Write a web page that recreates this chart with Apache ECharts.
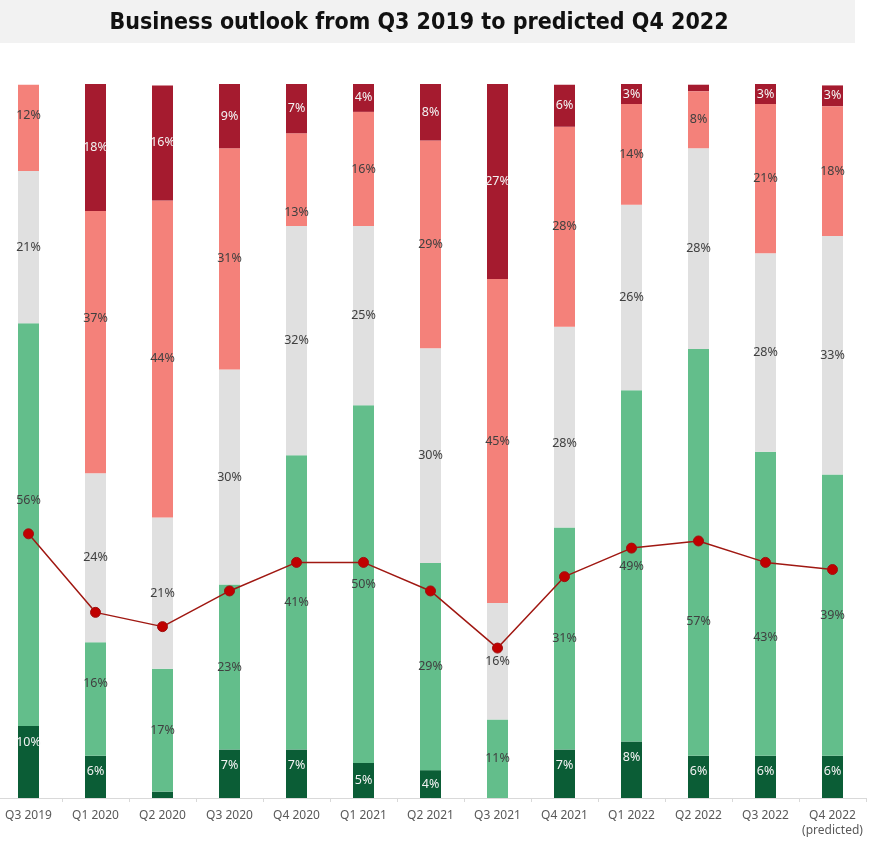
<!DOCTYPE html>
<html>
<head>
<meta charset="utf-8">
<script src="https://cdn.jsdelivr.net/npm/echarts@6/dist/echarts.min.js"></script>
<style>
html,body{margin:0;padding:0;background:#fff;overflow:hidden;}
#chart{position:relative;left:-5px;width:877px;height:845px;}
</style>
</head>
<body>
<div id="chart"></div>
<script>
// ---- data (percent of respondents) ----
const categories = ['Q3 2019','Q1 2020','Q2 2020','Q3 2020','Q4 2020','Q1 2021','Q2 2021','Q3 2021','Q4 2021','Q1 2022','Q2 2022','Q3 2022','Q4 2022\n(predicted)'];
const veryPositive = [10.1, 5.9, 0.9, 6.8, 6.8, 4.9, 3.9, 0, 6.8, 7.9, 5.9, 5.9, 5.9];
const positive     = [56.4, 15.9, 17.2, 23.1, 41.2, 50.1, 29.0, 11.0, 31.1, 49.2, 57.0, 42.6, 39.4];
const neutral      = [21.3, 23.7, 21.2, 30.1, 32.1, 25.1, 30.1, 16.3, 28.1, 26.0, 28.1, 27.8, 33.4];
const negative     = [12.1, 36.7, 44.4, 31.0, 13.0, 16.0, 29.1, 45.4, 28.0, 14.1, 8.0, 20.9, 18.2];
const veryNegative = [0, 17.8, 16.1, 9.0, 6.9, 4.0, 7.9, 27.3, 5.9, 2.9, 0.9, 2.9, 2.9];
const outlookIndex = [37, 26, 24, 29, 33, 33, 29, 21, 31, 35, 36, 33, 32];

// ---- label nudges (pixels, vertical) ----
const labelNudge = {
  veryPositive: [-20, -5, 0, -8, -8, 0, 0, 0, -8, -12, -5, -5, -5],
  positive:     [-24, -16, 0, 0, 0, 0, 0, 0, 0, 0, 69, 34, 0],
  neutral:      [0, 0, 0, 0, 0, 0, 0, 0, 16, 0, 0, 0, 0],
  negative:     [-12, -24, 0, 0, 33, 0, 0, 0, 0, 0, 0, 0, 0],
  veryNegative: [0, 0, 0, 0, 0, 0, 0, 0, 0, 0, 0, 0, 0]
};

const FONT = '"Noto Sans", "Open Sans", sans-serif';

function barSeries(name, key, values, color, labelColor) {
  return {
    name: name,
    type: 'bar',
    stack: 'total',
    barWidth: 21,
    itemStyle: { color: color },
    data: values.map((v, i) => ({
      value: v,
      label: {
        show: v >= 1.5,
        offset: [0, labelNudge[key][i]]
      }
    })),
    label: {
      position: 'inside',
      color: labelColor,
      fontFamily: FONT,
      fontSize: 12.5,
      formatter: p => Math.round(p.value) + '%'
    },
    emphasis: { disabled: true }
  };
}

const chart = echarts.init(document.getElementById('chart'));
chart.setOption({
  animation: false,
  backgroundColor: '#ffffff',
  graphic: [{
    type: 'rect',
    left: 5, top: 0,
    shape: { width: 855, height: 43 },
    style: { fill: '#f2f2f2' },
    z: -10
  }],
  title: {
    text: 'Business outlook from Q3 2019 to predicted Q4 2022',
    left: 419,
    textAlign: 'center',
    top: 7,
    textStyle: {
      fontFamily: '"Liberation Sans Narrow", "DejaVu Sans Condensed", sans-serif',
      fontWeight: 'bold',
      fontSize: 23,
      color: '#111'
    }
  },
  grid: { left: 0, right: 6, top: 84, bottom: 47, containLabel: false },
  xAxis: {
    type: 'category',
    data: categories,
    axisLine: { lineStyle: { color: '#d9d9d9', width: 1 } },
    axisTick: { show: true, length: 4, lineStyle: { color: '#d9d9d9' } },
    axisLabel: { color: '#595959', fontFamily: FONT, fontSize: 12, margin: 10, lineHeight: 15, interval: 0 }
  },
  yAxis: {
    type: 'value', min: 0, max: 100, show: false,
    splitLine: { show: false }
  },
  series: [
    barSeries('Very positive', 'veryPositive', veryPositive, '#0b5d36', '#f2f2f2'),
    barSeries('Positive', 'positive', positive, '#63be8b', '#404040'),
    barSeries('Neutral', 'neutral', neutral, '#e0e0e0', '#404040'),
    barSeries('Negative', 'negative', negative, '#f4817a', '#404040'),
    barSeries('Very negative', 'veryNegative', veryNegative, '#a51b2f', '#f2f2f2'),
    {
      name: 'Outlook',
      type: 'line',
      data: outlookIndex,
      z: 10,
      symbol: 'circle',
      symbolSize: 10,
      lineStyle: { color: '#a01812', width: 1.5 },
      itemStyle: { color: '#c00000', borderColor: '#a01010', borderWidth: 1 },
      label: { show: false },
      emphasis: { disabled: true }
    }
  ]
});
</script>
</body>
</html>
